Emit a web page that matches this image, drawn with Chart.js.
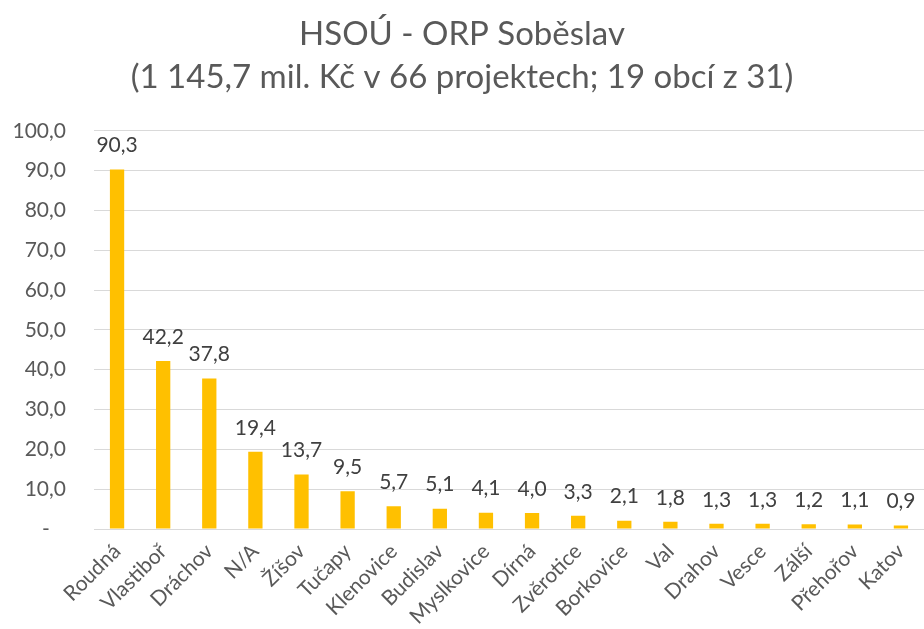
<!DOCTYPE html>
<html>
<head>
<meta charset="utf-8">
<script src="https://cdn.jsdelivr.net/npm/chart.js@4/dist/chart.umd.min.js"></script>
<style>
    html, body { margin: 0; padding: 0; background: #fff; }
    #wrap { width: 924px; height: 629px; position: relative; }
</style>
</head>
<body>
<div id="wrap"><canvas id="barChart"></canvas></div>
<script>
/*
==================================
    Data
==================================
*/
var titleLines = ['HSOÚ - ORP Soběslav', '(1 145,7 mil. Kč v 66 projektech; 19 obcí z 31)'];
var obce = ['Roudná', 'Vlastiboř', 'Dráchov', 'N/A', 'Žíšov', 'Tučapy', 'Klenovice', 'Budislav', 'Myslkovice',
    'Dírná', 'Zvěrotice', 'Borkovice', 'Val', 'Drahov', 'Vesce', 'Zálší', 'Přehořov', 'Katov'];
var hodnoty = [90.3, 42.2, 37.8, 19.4, 13.7, 9.5, 5.7, 5.1, 4.1, 4.0, 3.3, 2.1, 1.8, 1.3, 1.3, 1.2, 1.1, 0.9];
var yMax = 100;
var yStep = 10;

var fontName = 'Lato, "Open Sans", sans-serif';

function czNum(v){
    return v.toFixed(1).replace('.', ',');
}

/*
==================================
    Data labels
==================================
*/
var valueLabels = {
    id: 'valueLabels',
    afterDatasetsDraw: function(chart){
        var ctx = chart.ctx;
        var meta = chart.getDatasetMeta(0);
        ctx.save();
        ctx.font = '21px ' + fontName;
        ctx.fillStyle = '#404040';
        ctx.textAlign = 'center';
        ctx.textBaseline = 'middle';
        meta.data.forEach(function(bar, i){
            ctx.fillText(czNum(hodnoty[i]), bar.x, bar.y - 24);
        });
        ctx.restore();
    }
};

/*
==================================
    Chart
==================================
*/
var ctx = document.getElementById('barChart');
var barChart = new Chart(ctx, {
    type: 'bar',
    data: {
        labels: obce,
        datasets: [{
            data: hodnoty,
            backgroundColor: '#FFC000',
            borderWidth: 0,
            categoryPercentage: 1,
            barPercentage: 0.31
        }]
    },
    options: {
        responsive: true,
        maintainAspectRatio: false,
        animation: false,
        layout: { padding: { top: 8, right: 0, bottom: 0, left: 0 } },
        plugins: {
            legend: { display: false },
            tooltip: { enabled: false },
            title: {
                display: true,
                text: titleLines,
                color: '#595959',
                font: { family: fontName, size: 33, weight: 'normal', lineHeight: 1.3 },
                padding: { top: 5, bottom: 32 }
            }
        },
        scales: {
            x: {
                grid: { display: false },
                border: { color: '#d9d9d9' },
                ticks: {
                    color: '#595959',
                    font: { family: fontName, size: 21 },
                    minRotation: 45,
                    maxRotation: 45,
                    autoSkip: false,
                    padding: 2
                },
                afterFit: function(scale){ scale.height = 100; }
            },
            y: {
                min: 0,
                max: yMax,
                grid: { color: '#d9d9d9', drawTicks: false },
                border: { display: false },
                ticks: {
                    stepSize: yStep,
                    color: '#595959',
                    font: { family: fontName, size: 21 },
                    padding: 28,
                    callback: function(v){ return v === 0 ? '-   ' : czNum(v); }
                },
                afterFit: function(scale){ scale.width = 94; }
            }
        }
    },
    plugins: [valueLabels]
});
</script>
</body>
</html>
